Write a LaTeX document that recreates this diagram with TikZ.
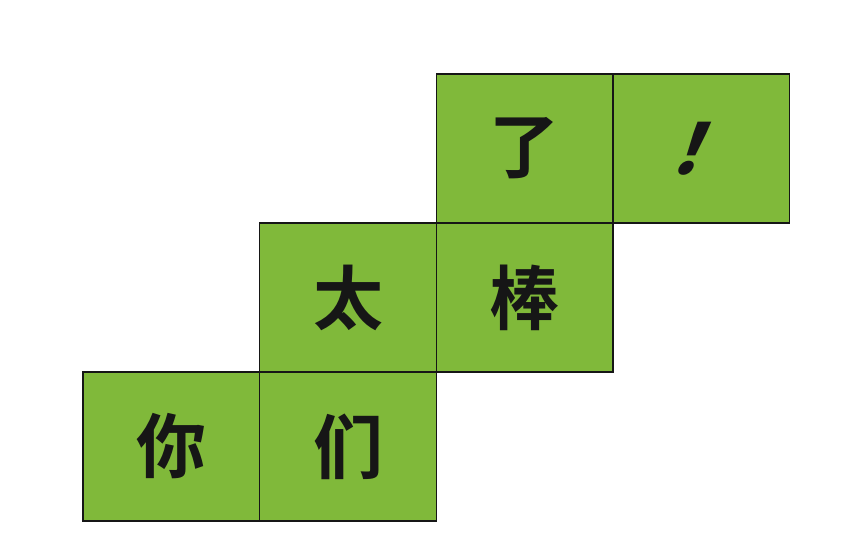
\documentclass[tikz,border=0pt]{standalone}
\usepackage{fontspec}
\newfontfamily\cjk{Noto Sans CJK SC}[BoldFont={Noto Sans CJK SC Bold}]
\newfontfamily\cjkslant{Noto Sans CJK SC Bold}[FakeSlant=0.4]
\usetikzlibrary{positioning}
\definecolor{tileGreen}{HTML}{80B93A}
\definecolor{tileInk}{HTML}{161616}

\begin{document}
\begin{tikzpicture}[x=1pt, y=-1pt,
  tile/.style={fill=tileGreen, draw=tileInk, line width=1.3pt, outer sep=0pt,
               minimum width=176.7pt, minimum height=149pt, inner sep=0pt,
               text=tileInk, font=\cjk\bfseries\fontsize{70}{70}\selectfont},
]
\useasboundingbox (0,0) rectangle (847,557);

\def\CW{176.7}  % cell width
\def\CH{149}    % cell height

% bottom row
\node[tile] (ni)  at (83+0.5*\CW,372+0.5*\CH) {你};
\node[tile, right=0pt of ni] (men) {们};
% middle row
\node[tile, above=0pt of men] (tai) {太};
\node[tile, right=0pt of tai] (bang) {棒};
% top row
\node[tile, above=0pt of bang] (le) {了};
\node[tile, right=0pt of le] (excl) {\cjkslant ！};

\end{tikzpicture}
\end{document}
